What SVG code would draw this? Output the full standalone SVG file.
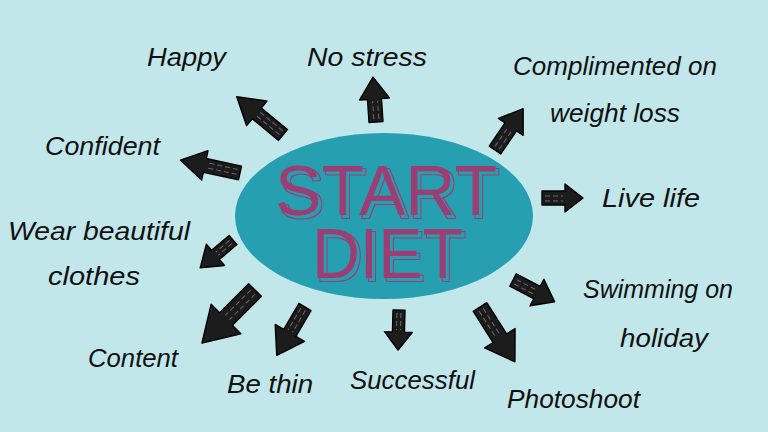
<svg xmlns="http://www.w3.org/2000/svg" width="768" height="432" viewBox="0 0 768 432">
<style>
.lbl{font-family:"Liberation Sans","DejaVu Sans",sans-serif;font-style:italic;font-size:25px;fill:#111;}
.big{font-family:"Liberation Sans","DejaVu Sans",sans-serif;font-size:70px;fill:#9C3D73;filter:url(#dbl);}
.arr{fill:#1c1c1c;stroke:#000;stroke-width:1.4;stroke-linejoin:round;}
.hatch{stroke:#6a6a6a;stroke-width:1;fill:none;stroke-dasharray:5 3;}
</style>
<defs>
<filter id="dbl" x="-10%" y="-20%" width="130%" height="150%">
<feOffset in="SourceAlpha" dx="3" dy="3" result="off"/>
<feMorphology in="off" operator="dilate" radius="0.8" result="dil"/>
<feComposite in="dil" in2="off" operator="out" result="ring"/>
<feFlood flood-color="#9C3D73"/>
<feComposite in2="ring" operator="in" result="ringc"/>
<feMerge><feMergeNode in="ringc"/><feMergeNode in="SourceGraphic"/></feMerge>
</filter>
</defs>
<rect width="768" height="432" fill="#C1E7EB"/>
<g id="center">
<ellipse cx="384" cy="216" rx="149" ry="83" fill="#26A0B0"/>
<text class="big" x="275" y="215" textLength="222" lengthAdjust="spacingAndGlyphs">START</text>
<text class="big" x="312" y="278" textLength="151" lengthAdjust="spacingAndGlyphs">DIET</text>
</g>
<g id="connectors">
<g transform="translate(283,135) rotate(219.6)"><path class="arr" d="M0,-7 L34,-7 L34,-16 L60,0 L34,16 L34,7 L0,7 Z"/><path class="hatch" d="M3,-2 L32,-2 M3,3 L32,3"/></g>
<g transform="translate(240,173) rotate(192.2)"><path class="arr" d="M0,-7 L36,-7 L36,-15 L61,0 L36,15 L36,7 L0,7 Z"/><path class="hatch" d="M3,-2 L34,-2 M3,3 L34,3"/></g>
<g transform="translate(376,122) rotate(266.2)"><path class="arr" d="M0,-7 L23,-7 L23,-15 L45,0 L23,15 L23,7 L0,7 Z"/><path class="hatch" d="M3,-2 L21,-2 M3,3 L21,3"/></g>
<g transform="translate(233,240) rotate(139.7)"><path class="arr" d="M0,-6 L23,-6 L23,-14 L43,0 L23,14 L23,6 L0,6 Z"/><path class="hatch" d="M3,-2 L21,-2 M3,2 L21,2"/></g>
<g transform="translate(255,290) rotate(135)"><path class="arr" d="M0,-9 L41,-9 L41,-21 L75,0 L41,21 L41,9 L0,9 Z"/><path class="hatch" d="M3,-3 L39,-3 M3,3 L39,3"/></g>
<g transform="translate(305,307) rotate(120.3)"><path class="arr" d="M0,-7 L30,-7 L30,-17 L56,0 L30,17 L30,7 L0,7 Z"/><path class="hatch" d="M3,-2 L28,-2 M3,3 L28,3"/></g>
<g transform="translate(399,310) rotate(91.4)"><path class="arr" d="M0,-6 L22,-6 L22,-14 L40,0 L22,14 L22,6 L0,6 Z"/><path class="hatch" d="M3,-2 L20,-2 M3,2 L20,2"/></g>
<g transform="translate(495,150) rotate(-55.7)"><path class="arr" d="M0,-7 L28,-7 L28,-15 L50,0 L28,15 L28,7 L0,7 Z"/><path class="hatch" d="M3,-2 L26,-2 M3,3 L26,3"/></g>
<g transform="translate(542,198) rotate(0)"><path class="arr" d="M0,-7 L23,-7 L23,-14 L41,0 L23,14 L23,7 L0,7 Z"/><path class="hatch" d="M3,-2 L21,-2 M3,3 L21,3"/></g>
<g transform="translate(513,280) rotate(27.6)"><path class="arr" d="M0,-7 L27,-7 L27,-15 L47,0 L27,15 L27,7 L0,7 Z"/><path class="hatch" d="M3,-2 L25,-2 M3,3 L25,3"/></g>
<g transform="translate(480,307) rotate(57.5)"><path class="arr" d="M0,-8 L37,-8 L37,-18 L65,0 L37,18 L37,8 L0,8 Z"/><path class="hatch" d="M3,-2 L35,-2 M3,3 L35,3"/></g>
</g>
<g id="happy"><text class="lbl" x="147" y="66" textLength="79" lengthAdjust="spacingAndGlyphs">Happy</text></g>
<g id="no-stress"><text class="lbl" x="307" y="66" textLength="120" lengthAdjust="spacingAndGlyphs">No stress</text></g>
<g id="complimented"><text class="lbl" x="513" y="75" textLength="204" lengthAdjust="spacingAndGlyphs">Complimented on</text><text class="lbl" x="550" y="122" textLength="130" lengthAdjust="spacingAndGlyphs">weight loss</text></g>
<g id="confident"><text class="lbl" x="45" y="155" textLength="115" lengthAdjust="spacingAndGlyphs">Confident</text></g>
<g id="live-life"><text class="lbl" x="602" y="207" textLength="98" lengthAdjust="spacingAndGlyphs">Live life</text></g>
<g id="wear"><text class="lbl" x="8" y="240" textLength="182" lengthAdjust="spacingAndGlyphs">Wear beautiful</text><text class="lbl" x="48" y="285" textLength="92" lengthAdjust="spacingAndGlyphs">clothes</text></g>
<g id="swimming"><text class="lbl" x="583" y="298" textLength="150" lengthAdjust="spacingAndGlyphs">Swimming on</text><text class="lbl" x="620" y="347" textLength="88" lengthAdjust="spacingAndGlyphs">holiday</text></g>
<g id="content"><text class="lbl" x="88" y="367" textLength="90" lengthAdjust="spacingAndGlyphs">Content</text></g>
<g id="be-thin"><text class="lbl" x="227" y="393" textLength="86" lengthAdjust="spacingAndGlyphs">Be thin</text></g>
<g id="successful"><text class="lbl" x="350" y="389" textLength="125" lengthAdjust="spacingAndGlyphs">Successful</text></g>
<g id="photoshoot"><text class="lbl" x="507" y="408" textLength="133" lengthAdjust="spacingAndGlyphs">Photoshoot</text></g>
</svg>
